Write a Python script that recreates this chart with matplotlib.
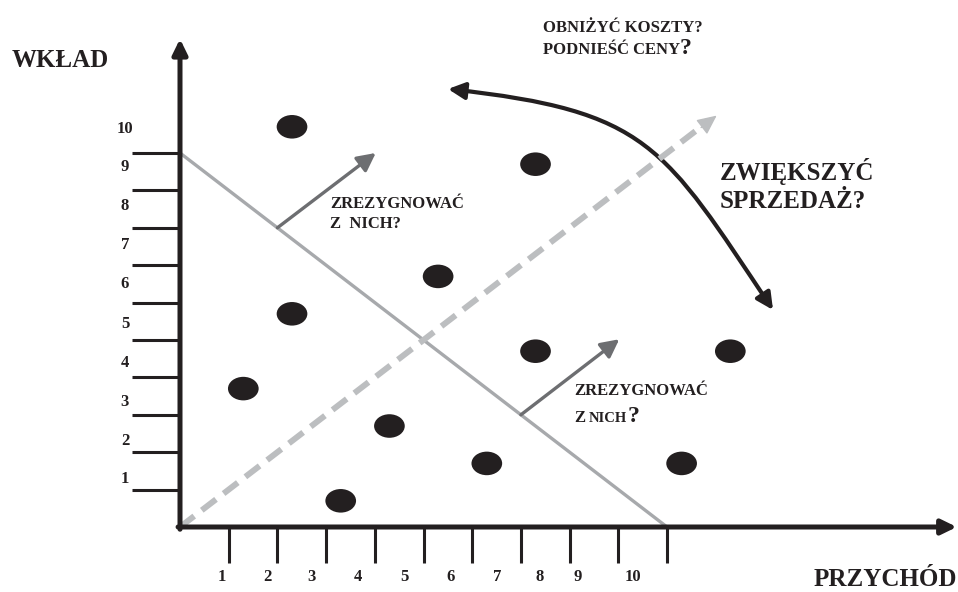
"""Macierz wkład / przychód z sugerowanymi kierunkami działań."""

import matplotlib

matplotlib.use("Agg")
import matplotlib.pyplot as plt
from matplotlib.patches import Ellipse, FancyArrowPatch
from matplotlib.path import Path

# produkty: pozycja na osi przychodu (x) i wkładu (y)
dot_x = [2.3, 7.3, 5.3, 2.3, 7.3, 11.3, 1.3, 4.3, 6.3, 10.3, 3.3]
dot_y = [10.7, 9.7, 6.7, 5.7, 4.7, 4.7, 3.7, 2.7, 1.7, 1.7, 0.7]

tick_vals = list(range(1, 11))
tick_labels = [str(v) for v in tick_vals]
# etykiety podziałki w oryginale nie stoją dokładnie przy kreskach
x_label_pos = [0.85, 1.80, 2.70, 3.65, 4.61, 5.56, 6.51, 7.38, 8.17, 9.31]
y_label_pos = [1.27, 2.30, 3.35, 4.39, 5.42, 6.50, 7.54, 8.59, 9.63, 10.64]

INK = "#231f20"
FONT = "Liberation Serif"


def label(ax, x, y, s, size, **kw):
    return ax.text(x, y, s, fontsize=size, fontweight="bold", family=FONT,
                   color=INK, va="baseline", **kw)


def tail(ax, prev, s, size, gap_px=1.0):
    # dopisuje tekst (np. duży "?") na tej samej linii bazowej
    fig = ax.figure
    fig.canvas.draw()
    bb = prev.get_window_extent(renderer=fig.canvas.get_renderer())
    x_disp = bb.x1 + gap_px
    x_data = ax.transData.inverted().transform((x_disp, 0))[0]
    return label(ax, x_data, prev.get_position()[1], s, size)


def main() -> None:
    fig = plt.figure(figsize=(9.58, 5.92), dpi=100)
    ax = fig.add_axes([0, 0, 1, 1])
    ax.set_xlim(-3.696, 15.975)
    ax.set_ylim(-1.738, 14.09)
    ax.axis("off")

    # osie ze strzałkami
    head = "-|>,head_length=0.45,head_width=0.22"
    ax.annotate("", xy=(0, 13.05), xytext=(0, -0.06),
                arrowprops=dict(arrowstyle=head, lw=3.6, color=INK,
                                mutation_scale=20, shrinkA=0, shrinkB=0))
    ax.annotate("", xy=(15.95, 0), xytext=(-0.04, 0),
                arrowprops=dict(arrowstyle=head, lw=3.6, color=INK,
                                mutation_scale=20, shrinkA=0, shrinkB=0))

    ax.hlines(tick_vals, -0.986, 0, color=INK, lw=2.2)
    ax.vlines(tick_vals, -0.96, 0, color=INK, lw=2.2)
    for pos, txt in zip(x_label_pos, tick_labels):
        ax.text(pos, -1.34, txt, ha="center", va="center", fontsize=12,
                fontweight="bold", family=FONT, color=INK)
    for pos, txt in zip(y_label_pos, tick_labels):
        ax.text(-1.13, pos, txt, ha="center", va="center", fontsize=12,
                fontweight="bold", family=FONT, color=INK)

    # linie podziału
    ax.plot([0, 10], [10, 0], color="#a7a9ac", lw=2.4, solid_capstyle="butt")
    ax.plot([0, 10.72], [0, 10.72], color="#bcbec0", lw=4.3,
            dashes=(3.0, 1.6), dash_capstyle="butt")
    ax.annotate("", xy=(11.02, 11.0), xytext=(10.7, 10.68),
                arrowprops=dict(arrowstyle="-|>,head_length=0.6,head_width=0.28",
                                lw=1, color="#bcbec0", mutation_scale=20,
                                shrinkA=0, shrinkB=0))

    # strzałki "zrezygnować"
    for start, end in [((2.0, 8.0), (4.02, 10.0)), ((7.0, 3.0), (9.02, 5.02))]:
        ax.annotate("", xy=end, xytext=start,
                    arrowprops=dict(arrowstyle="-|>,head_length=0.55,head_width=0.28",
                                    lw=2.4, color="#6d6e71", mutation_scale=20,
                                    shrinkA=0, shrinkB=0))

    # produkty
    for x, y in zip(dot_x, dot_y):
        ax.add_patch(Ellipse((x, y), 0.63, 0.63, color=INK, lw=0))

    # łuk: obniżyć koszty / zwiększyć sprzedaż
    verts = [(5.503, 11.711), (9.61, 11.123), (9.918, 10.214), (12.177, 5.802)]
    codes = [Path.MOVETO, Path.CURVE4, Path.CURVE4, Path.CURVE4]
    ax.add_patch(FancyArrowPatch(path=Path(verts, codes),
                                 arrowstyle="<|-|>,head_length=0.5,head_width=0.25",
                                 mutation_scale=20, lw=3, color=INK))

    # napisy
    label(ax, -3.45, 12.30, "WKŁAD", 18)
    label(ax, 15.95, -1.58, "PRZYCHÓD", 18, ha="right")
    label(ax, 7.45, 13.24, "OBNIŻYĆ KOSZTY?", 12)
    t = label(ax, 7.45, 12.64, "PODNIEŚĆ CENY", 12)
    tail(ax, t, "?", 17, gap_px=0)
    label(ax, 11.09, 9.28, "ZWIĘKSZYĆ", 18)
    label(ax, 11.09, 8.52, "SPRZEDAŻ?", 18)
    label(ax, 3.09, 8.52, "ZREZYGNOWAĆ", 12)
    label(ax, 3.09, 7.99, "Z  NICH?", 12)
    label(ax, 8.09, 3.53, "ZREZYGNOWAĆ", 12)
    t = label(ax, 8.09, 2.82, "Z", 12)
    t = tail(ax, t, "NICH", 10.5, gap_px=4)
    tail(ax, t, "?", 17, gap_px=0)

    fig.savefig("out.png", dpi=100)


if __name__ == "__main__":
    main()
